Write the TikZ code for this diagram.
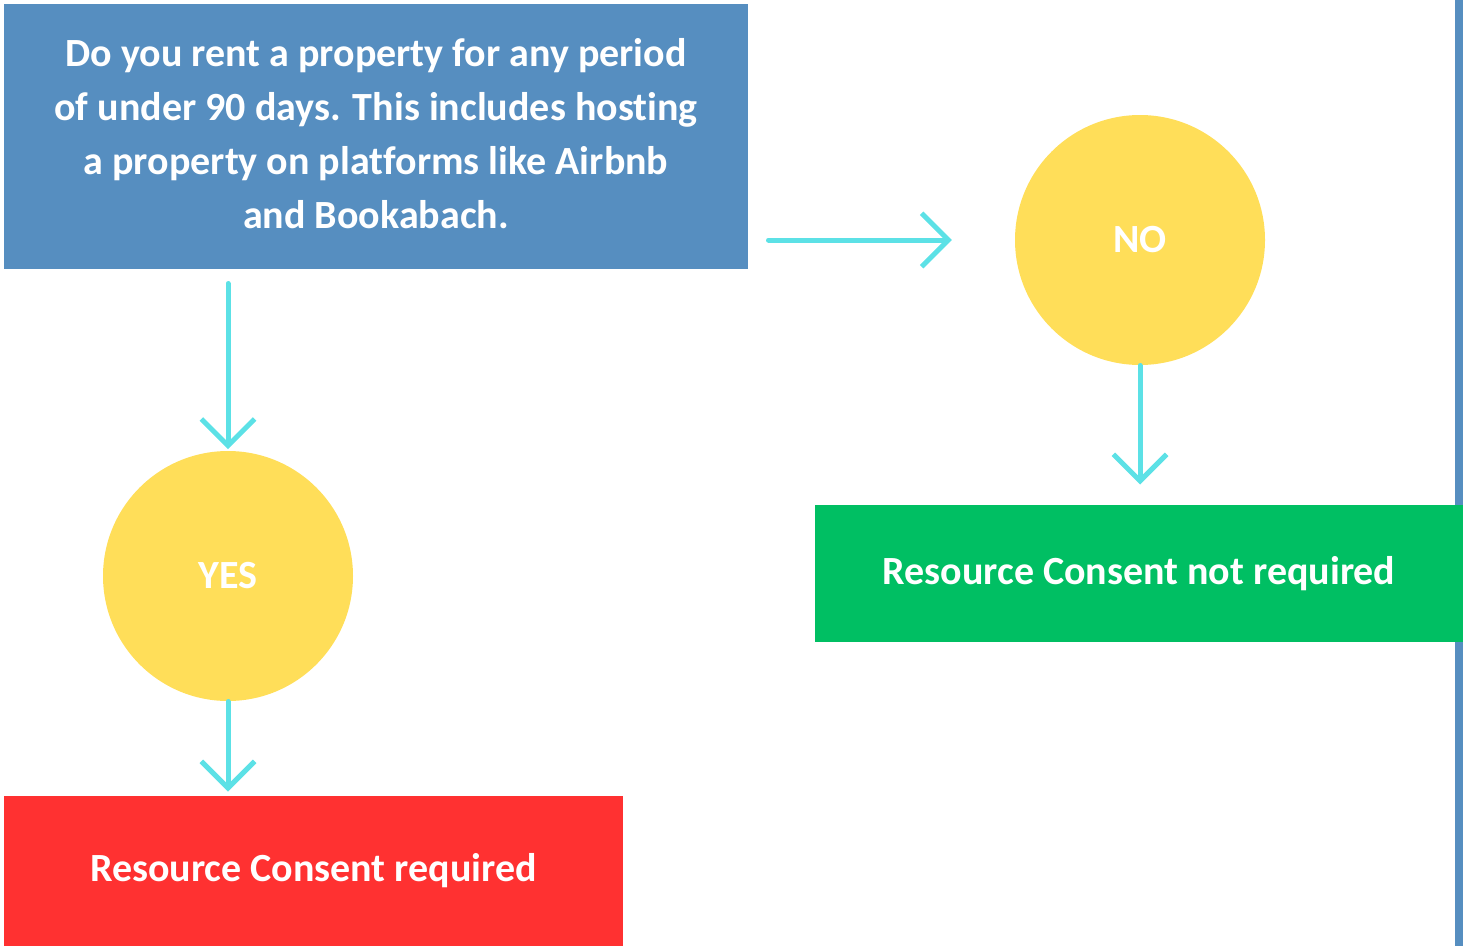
\documentclass[tikz,border=0pt]{standalone}
\usepackage{fontspec}
\setmainfont{Carlito}[Ligatures=NoCommon]
\usetikzlibrary{arrows.meta}

\definecolor{qblue}{RGB}{86,142,192}
\definecolor{ansyellow}{RGB}{255,222,89}
\definecolor{okgreen}{RGB}{0,191,99}
\definecolor{badred}{RGB}{255,49,49}
\definecolor{arrowcyan}{RGB}{92,225,230}

\tikzset{every picture/.style={line width=0.75pt}}
\tikzset{
  qbox/.style={fill=qblue, text=white, align=center, inner sep=0pt,
    font=\fontsize{30}{40.5}\selectfont\bfseries},
  answer/.style={circle, fill=ansyellow, text=white, inner sep=0pt,
    minimum size=187.5pt, font=\fontsize{30}{36}\selectfont\bfseries},
  outcome/.style={text=white, inner sep=0pt,
    font=\fontsize{30}{36}\selectfont\bfseries},
  handarrow/.style={draw=arrowcyan, line width=3.75pt, line cap=round, line join=round,
    -{Straight Barb[length=20pt,width=40pt,line width=3.75pt]}}
}

\begin{document}
\begin{tikzpicture}[x=0.75pt,y=0.75pt,yscale=-1,xscale=1]

\useasboundingbox (0,0) rectangle (1463,946);

% strip on the right edge
\fill [qblue] (1455,0) rectangle (1463,946);

\node [qbox, minimum width=558pt, minimum height=198.75pt] (question) at (376,136.5)
  {Do you rent a property for any period\\
   of under 90 days. This includes hosting\\
   a property on platforms like Airbnb\\
   and Bookabach.\vphantom{y}};

\node [answer] (no) at (1140,240) {NO};
\node [answer] (yes) at (228,576) {YES};

\node [outcome, fill=okgreen, minimum width=486pt, minimum height=102.75pt] (notreq) at (1139,573.5)
  {Resource Consent not required};
\node [outcome, fill=badred, minimum width=464.25pt, minimum height=112.5pt] (required) at (313.5,871)
  {Resource Consent required};

\draw [handarrow, shorten <=15pt, shorten >=47pt] (question.east |- no.west) -- (no.west);
\draw [handarrow, shorten <=10.5pt, shorten >=1pt] (yes |- question.south) -- (yes.north);
\draw [handarrow, shorten >=15pt] (no.south) -- (no.south |- notreq.north);
\draw [handarrow, shorten >=3pt] (yes.south) -- (yes.south |- required.north);

\end{tikzpicture}
\end{document}
